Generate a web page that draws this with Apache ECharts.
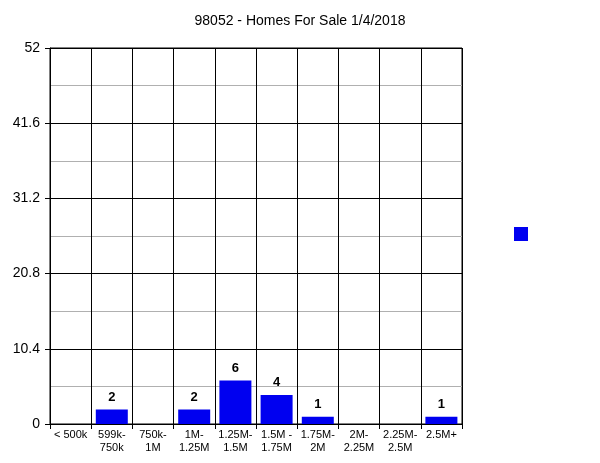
<!DOCTYPE html>
<html><head><meta charset="utf-8">
<script src="https://cdn.jsdelivr.net/npm/echarts@6/dist/echarts.min.js"></script>
<style>html,body{margin:0;padding:0;background:#fff}#c{width:600px;height:463px}</style>
</head><body><div id="c"></div>
<script>
const categories = ['< 500k', '599k-\n750k', '750k-\n1M', '1M-\n1.25M', '1.25M-\n1.5M', '1.5M -\n1.75M', '1.75M-\n2M', '2M-\n2.25M', '2.25M-\n2.5M', '2.5M+'];
const values = [0, 2, 0, 2, 6, 4, 1, 0, 0, 1];
const yTicks = [0, 10.4, 20.8, 31.2, 41.6, 52];
const title = '98052 - Homes For Sale 1/4/2018';
const font = 'Liberation Sans, Arial, sans-serif';
const chart = echarts.init(document.getElementById('c'));
chart.setOption({
  animation: false,
  title: { text: title, left: 'center', top: 9, textStyle: { fontFamily: font, fontSize: 14, fontWeight: 'normal', color: '#000' } },
  legend: { left: 509, top: 222, icon: 'rect', itemWidth: 14, itemHeight: 14, data: [{ name: ' ' }], textStyle: { fontSize: 1, color: 'transparent' }, selectedMode: false },
  grid: { left: 50, right: 138, top: 48, bottom: 39, show: true, borderColor: '#000', borderWidth: 1 },
  xAxis: {
    type: 'category', data: categories, boundaryGap: true,
    axisLine: { lineStyle: { color: '#000', width: 1 } },
    axisTick: { show: true, interval: 0, length: 5, lineStyle: { color: '#000' } },
    axisLabel: { interval: 0, fontFamily: font, fontSize: 11, color: '#000', margin: 4, lineHeight: 13 },
    splitLine: { show: true, interval: 0, lineStyle: { color: '#000', width: 1 } }
  },
  yAxis: {
    type: 'value', min: 0, max: 52, interval: 10.4,
    axisLine: { show: true, lineStyle: { color: '#000' } },
    axisTick: { show: true, length: 5, lineStyle: { color: '#000' } },
    axisLabel: { fontFamily: font, fontSize: 14, color: '#000', margin: 10, formatter: v => { const t = yTicks.find(x => Math.abs(x - v) < 1e-6); return t === undefined ? '' : String(t); } },
    splitLine: { show: true, lineStyle: { color: '#000', width: 1 } },
    minorTick: { show: false, splitNumber: 2 },
    minorSplitLine: { show: true, lineStyle: { color: '#b0b0b0', width: 1 } }
  },
  series: [{
    name: ' ', type: 'bar', data: values, barWidth: 32,
    itemStyle: { color: '#0000f0' },
    label: { show: true, position: 'top', distance: 6, fontFamily: font, fontSize: 13, fontWeight: 'bold', color: '#000', formatter: p => p.value > 0 ? String(p.value) : '' }
  }]
});
</script></body></html>
